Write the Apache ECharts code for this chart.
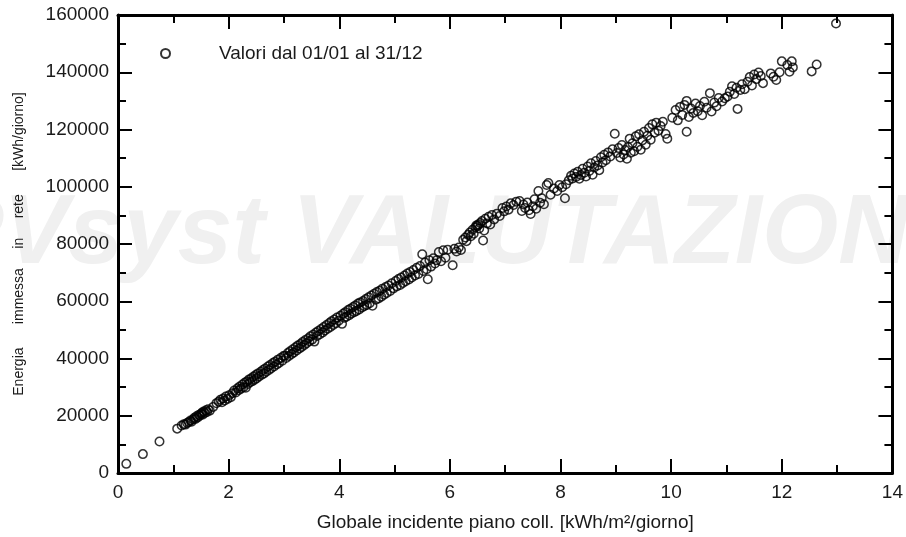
<!DOCTYPE html>
<html>
<head>
<meta charset="utf-8">
<script src="https://cdn.jsdelivr.net/npm/echarts@6/dist/echarts.min.js"></script>
<style>
  html, body { margin: 0; padding: 0; background: #fff; }
  #chart { width: 906px; height: 537px; }
</style>
</head>
<body>
<div id="chart"></div>
<script>
// daily values: [global incident on collector plane kWh/m2/day, energy injected kWh/day]
const dailyValues = [
  [0.15, 3200], [0.45, 6600], [0.75, 11000],
  [1.07, 15500], [1.15, 16600], [1.19, 17000], [1.22, 16900], [1.25, 17500], [1.28, 17800],
  [1.31, 18300], [1.33, 17900], [1.36, 18800], [1.38, 19300], [1.40, 18900], [1.42, 19800],
  [1.44, 19400], [1.46, 20300], [1.48, 20000], [1.50, 20700], [1.52, 21100], [1.53, 20400],
  [1.55, 21500], [1.57, 21000], [1.59, 21900], [1.61, 21300], [1.63, 22300], [1.66, 21800],
  [1.72, 23100], [1.78, 24400], [1.82, 24900], [1.85, 25600], [1.88, 24700], [1.90, 26000],
  [1.93, 25300], [1.95, 26700], [1.98, 25900], [2.01, 27200], [2.04, 26500], [2.07, 27900],
  [2.10, 28800], [2.13, 28100], [2.16, 29600], [2.18, 28900], [2.20, 30200], [2.22, 29400],
  [2.25, 30900], [2.27, 30000], [2.29, 31500], [2.31, 29800], [2.33, 32000], [2.35, 31100],
  [2.37, 32700], [2.39, 31700], [2.41, 33100], [2.43, 32100], [2.45, 33700], [2.47, 32600],
  [2.49, 34200], [2.51, 33100], [2.53, 34800], [2.55, 33700], [2.58, 35400], [2.60, 34300],
  [2.62, 36000], [2.64, 34800], [2.66, 36500], [2.68, 35400], [2.71, 37200], [2.73, 36000],
  [2.75, 37700], [2.77, 36600], [2.80, 38400], [2.82, 37200], [2.84, 38900], [2.87, 37900],
  [2.89, 39600], [2.91, 38400], [2.94, 40200], [2.97, 39200], [2.99, 40900],
  [3.02, 41000], [3.04, 40200], [3.07, 41900], [3.09, 40900], [3.11, 42500], [3.14, 41600],
  [3.16, 43200], [3.18, 42100], [3.21, 43900], [3.23, 42800], [3.25, 44500], [3.28, 43500],
  [3.30, 45100], [3.32, 44000], [3.34, 45800], [3.37, 44700], [3.39, 46500], [3.41, 45300],
  [3.44, 47100], [3.46, 46000], [3.48, 47800], [3.51, 46600], [3.53, 48400], [3.55, 45900],
  [3.58, 49100], [3.60, 47900], [3.62, 49600], [3.65, 48500], [3.67, 50300], [3.70, 49100],
  [3.72, 51000], [3.74, 49800], [3.77, 51700], [3.79, 50400], [3.82, 52400], [3.84, 51000],
  [3.86, 53000], [3.89, 51700], [3.91, 53600], [3.94, 52300], [3.96, 54300], [3.99, 53200],
  [4.02, 54900], [4.05, 52100], [4.07, 55600], [4.09, 54200], [4.11, 56200], [4.13, 54600],
  [4.16, 56900], [4.18, 55100], [4.20, 57400], [4.22, 55700], [4.25, 58000], [4.27, 56200],
  [4.29, 58500], [4.31, 56600], [4.34, 59200], [4.36, 57100], [4.38, 59600], [4.41, 57800],
  [4.43, 60100], [4.45, 58300], [4.48, 60800], [4.50, 58700], [4.53, 61400], [4.55, 59300],
  [4.58, 62000], [4.60, 58400], [4.63, 62600], [4.66, 60500], [4.68, 63200], [4.71, 61000],
  [4.73, 63700], [4.76, 61600], [4.78, 64400], [4.81, 62300], [4.84, 65000], [4.86, 62900],
  [4.89, 65500], [4.92, 63600], [4.95, 66300], [4.98, 64500],
  [5.02, 67100], [5.04, 65200], [5.07, 67800], [5.10, 65700], [5.12, 68300], [5.15, 66400],
  [5.18, 69000], [5.20, 67000], [5.23, 69700], [5.26, 67600], [5.28, 70200], [5.31, 68300],
  [5.34, 70900], [5.37, 69000], [5.40, 71700], [5.43, 69500], [5.46, 72300], [5.50, 76400],
  [5.52, 70600], [5.55, 73500], [5.58, 71200], [5.60, 67700], [5.63, 74300], [5.66, 72100],
  [5.70, 75000], [5.73, 73200], [5.76, 74300], [5.80, 77200], [5.84, 74000], [5.88, 77800],
  [5.92, 75200], [5.96, 78000],
  [6.05, 72600], [6.08, 78300], [6.12, 77400], [6.16, 78800], [6.20, 77900], [6.24, 81500],
  [6.28, 82300], [6.30, 81000], [6.33, 83200], [6.36, 84000], [6.38, 82700], [6.41, 85000],
  [6.43, 83600], [6.46, 85800], [6.48, 86500], [6.50, 86300], [6.51, 86800], [6.53, 85400],
  [6.55, 87300], [6.58, 88000], [6.60, 81200], [6.62, 84700], [6.64, 88800], [6.67, 87200],
  [6.70, 89500], [6.73, 86800], [6.76, 90100], [6.80, 88600], [6.85, 90600], [6.90, 89800],
  [6.95, 92600], [6.98, 91400],
  [7.02, 93100], [7.06, 92000], [7.10, 94200], [7.15, 93600], [7.20, 94800], [7.26, 95000],
  [7.30, 91500], [7.33, 93800], [7.36, 92600], [7.40, 94500], [7.43, 91800], [7.46, 90500],
  [7.50, 93200], [7.53, 95600], [7.56, 92300], [7.60, 98500], [7.63, 94400], [7.66, 96000],
  [7.70, 93900], [7.75, 100600], [7.78, 101300], [7.82, 97200], [7.88, 99400], [7.94, 98500],
  [7.98, 100600], [8.03, 99800], [8.08, 96000], [8.10, 100900],
  [8.15, 102300], [8.19, 103800], [8.22, 102900], [8.25, 104600], [8.28, 103400], [8.31, 105200],
  [8.34, 102800], [8.37, 104100], [8.40, 106300], [8.43, 104900], [8.46, 103600], [8.49, 107100],
  [8.52, 105500], [8.55, 108200], [8.58, 104200], [8.61, 106700], [8.64, 109000], [8.67, 107400],
  [8.70, 105800], [8.73, 110300], [8.76, 108500], [8.79, 111200], [8.82, 109300], [8.86, 112000],
  [8.90, 110600], [8.94, 113100], [8.98, 118500], [9.02, 111800],
  [9.05, 113500], [9.08, 110200], [9.11, 114600], [9.14, 111300], [9.17, 112800], [9.20, 109800],
  [9.22, 113900], [9.25, 116800], [9.27, 111900], [9.30, 115200], [9.33, 112400], [9.36, 117600],
  [9.39, 114000], [9.42, 118300], [9.45, 112900], [9.48, 116200], [9.51, 119200], [9.54, 114700],
  [9.57, 117800], [9.60, 120500], [9.63, 116400], [9.66, 121800], [9.70, 118900], [9.73, 122400],
  [9.77, 119600], [9.81, 121200], [9.85, 122700], [9.90, 118400], [9.93, 116800],
  [10.02, 124100], [10.08, 126800], [10.12, 123200], [10.16, 127900], [10.20, 125100], [10.24, 128600],
  [10.28, 130000], [10.28, 119200], [10.32, 124400], [10.36, 127300], [10.40, 125800], [10.44, 129100],
  [10.48, 126400], [10.52, 128200], [10.56, 125000], [10.60, 129700], [10.64, 127600], [10.70, 132700],
  [10.73, 126300], [10.78, 129400], [10.82, 128100], [10.86, 131000], [10.92, 129800], [10.97, 130900],
  [11.02, 131500], [11.06, 133200], [11.10, 135100], [11.14, 132400], [11.18, 134600], [11.20, 127200],
  [11.25, 133800], [11.28, 135800], [11.33, 134100], [11.38, 136700], [11.42, 138300], [11.46, 135400],
  [11.50, 139200], [11.54, 137600], [11.58, 139900], [11.62, 138700], [11.66, 136200], [11.80, 139600],
  [11.85, 138400], [11.90, 137300], [11.96, 140000], [12.00, 143800], [12.10, 142500], [12.14, 140200],
  [12.18, 143800], [12.20, 141700], [12.54, 140300], [12.63, 142700], [12.98, 157000]
];

const xTicks = [0, 2, 4, 6, 8, 10, 12, 14];
const yTicks = [0, 20000, 40000, 60000, 80000, 100000, 120000, 140000, 160000];

const seriesName = 'Valori dal 01/01 al 31/12';
const xName = 'Globale incidente piano coll. [kWh/m²/giorno]';
const yName = 'Energia      immessa     in     rete      [kWh/giorno]';

const font = '"Liberation Sans", Arial, sans-serif';
const ink = '#1a1a1a';

const frameAxis = (extra) => Object.assign({
  type: 'value',
  axisLine: { show: true, onZero: false, lineStyle: { color: '#000', width: 3 } },
  axisTick: { show: true, inside: true, length: 14, lineStyle: { color: '#000', width: 2 } },
  minorTick: { show: true, splitNumber: 2, length: 8, lineStyle: { color: '#000', width: 2 } },
  splitLine: { show: false },
  axisLabel: { color: ink, fontSize: 19, fontFamily: font }
}, extra);

const chart = echarts.init(document.getElementById('chart'), null, { renderer: 'canvas' });
chart.setOption({
  animation: false,
  backgroundColor: '#fff',
  textStyle: { fontFamily: font },
  grid: { left: 118, right: 13, top: 15, bottom: 59 },
  graphic: [{
    type: 'text',
    left: -62,
    top: 187,
    z: 0,
    silent: true,
    style: {
      text: 'PVsyst VALUTAZIONE',
      font: 'italic bold 98px "Liberation Sans", Arial, sans-serif',
      fill: '#f0f0f0'
    }
  }],
  legend: {
    show: true,
    data: [seriesName],
    left: 155,
    top: 39,
    itemWidth: 9,
    itemHeight: 9,
    textStyle: { color: ink, fontSize: 19, fontFamily: font, padding: [0, 0, 0, 44] }
  },
  xAxis: [
    frameAxis({
      position: 'bottom', min: xTicks[0], max: xTicks[xTicks.length - 1], interval: 2,
      name: xName, nameLocation: 'middle', nameGap: 40,
      nameTextStyle: { color: ink, fontSize: 19, fontFamily: font },
      axisLabel: { color: ink, fontSize: 19, fontFamily: font, margin: 10 }
    }),
    frameAxis({
      position: 'top', min: xTicks[0], max: xTicks[xTicks.length - 1], interval: 2,
      axisLabel: { show: false }
    })
  ],
  yAxis: [
    frameAxis({
      position: 'left', min: yTicks[0], max: yTicks[yTicks.length - 1], interval: 20000,
      name: yName, nameLocation: 'middle', nameGap: 92,
      nameTextStyle: { color: ink, fontSize: 14, fontFamily: font },
      axisLabel: { color: ink, fontSize: 19, fontFamily: font, margin: 9, formatter: (v) => String(v) }
    }),
    frameAxis({
      position: 'right', min: yTicks[0], max: yTicks[yTicks.length - 1], interval: 20000,
      axisLabel: { show: false }
    })
  ],
  series: [{
    name: seriesName,
    type: 'scatter',
    xAxisIndex: 0,
    yAxisIndex: 0,
    z: 5,
    symbol: 'circle',
    symbolSize: 8.5,
    itemStyle: { color: 'rgba(255,255,255,0)', borderColor: '#000', borderWidth: 1.5 },
    data: dailyValues
  }]
});
</script>
</body>
</html>
